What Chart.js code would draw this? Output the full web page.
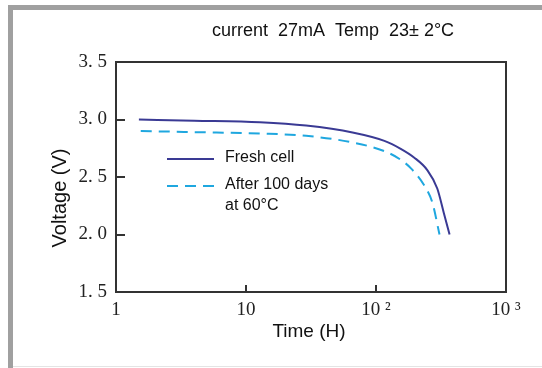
<!DOCTYPE html>
<html><head><meta charset="utf-8">
<script src="https://cdn.jsdelivr.net/npm/chart.js@4/dist/chart.umd.min.js"></script>
<style>html,body{margin:0;padding:0;background:#fff}#wrap{width:542px;height:368px;position:relative}</style>
</head><body><div id="wrap"><canvas id="c" width="542" height="368"></canvas></div>
<script>
const chartTitle = 'current  27mA  Temp  23\u00b1 2\u00b0C';
const xAxisTitle = 'Time (H)';
const yAxisTitle = 'Voltage (V)';
const xTickValues = [1, 10, 100, 1000];
const xTickLabels = ['1', '10', '10 \u00b2', '10 \u00b3'];
const yTickValues = [1.5, 2.0, 2.5, 3.0, 3.5];
const yTickLabels = ['1. 5', '2. 0', '2. 5', '3. 0', '3. 5'];
const seriesNames = ['Fresh cell', 'After 100 days at 60\u00b0C'];
const legendLines = [['Fresh cell'], ['After 100 days', 'at 60\u00b0C']];
const seriesColors = ['#3a3a94', '#1fa7df'];
const freshTime = [1.5, 4, 12.8, 29, 66, 116, 155, 196, 248, 296, 332, 368];
const freshVolt = [3.00, 2.99, 2.976, 2.947, 2.887, 2.814, 2.745, 2.67, 2.56, 2.40, 2.19, 2.00];
const agedTime = [1.55, 4, 12.8, 29, 66, 116, 155, 185, 234, 271, 308];
const agedVolt = [2.90, 2.89, 2.878, 2.858, 2.80, 2.725, 2.65, 2.577, 2.43, 2.28, 2.00];

const toPts = (ts, vs) => ts.map((t, i) => ({x: t, y: vs[i]}));

const decor = {
  id: 'decor',
  beforeDraw(chart) {
    const ctx = chart.ctx;
    ctx.save();
    ctx.fillStyle = '#fff';
    ctx.fillRect(0, 0, chart.width, chart.height);
    ctx.fillStyle = '#a0a0a0';
    ctx.fillRect(8, 5, chart.width - 8, 5);
    ctx.fillRect(8, 5, 5, chart.height - 5);
    ctx.fillStyle = '#e4e4e4';
    ctx.fillRect(13, 366, chart.width - 13, 1);
    ctx.restore();
  },
  afterDraw(chart) {
    const {ctx, chartArea: a, scales} = chart;
    ctx.save();
    ctx.strokeStyle = '#333';
    ctx.lineWidth = 2;
    ctx.strokeRect(a.left, a.top, a.right - a.left, a.bottom - a.top);
    ctx.beginPath();
    yTickValues.forEach(v => {
      if (v <= scales.y.min || v >= scales.y.max) return;
      const y = Math.round(scales.y.getPixelForValue(v));
      ctx.moveTo(a.left, y); ctx.lineTo(a.left + 9, y);
    });
    xTickValues.forEach(v => {
      if (v <= scales.x.min || v >= scales.x.max) return;
      const x = Math.round(scales.x.getPixelForValue(v));
      ctx.moveTo(x, a.bottom); ctx.lineTo(x, a.bottom - 7);
    });
    ctx.stroke();

    // legend
    const lx = a.left + 51, tx = a.left + 109;
    const rows = [159, 186];
    ctx.font = '16px "Liberation Sans", Arial, sans-serif';
    ctx.textAlign = 'left';
    ctx.textBaseline = 'middle';
    chart.data.datasets.forEach((ds, i) => {
      ctx.beginPath();
      ctx.strokeStyle = ds.borderColor;
      ctx.lineWidth = ds.borderWidth;
      ctx.setLineDash(ds.borderDash || []);
      ctx.moveTo(lx, rows[i]); ctx.lineTo(lx + 47, rows[i]);
      ctx.stroke();
      ctx.setLineDash([]);
      ctx.fillStyle = '#111';
      legendLines[i].forEach((ln, j) => ctx.fillText(ln, tx, rows[i] - 1 + j * 21));
    });

    // titles
    ctx.fillStyle = '#111';
    ctx.textAlign = 'center';
    ctx.font = '18px "Liberation Sans", Arial, sans-serif';
    ctx.fillText(chartTitle, 333, 31);
    ctx.font = '19px "Liberation Sans", Arial, sans-serif';
    ctx.fillText(xAxisTitle, 309, 332);
    ctx.translate(60, 198);
    ctx.rotate(-Math.PI / 2);
    ctx.font = '20px "Liberation Sans", Arial, sans-serif';
    ctx.fillText(yAxisTitle, 0, 0);
    ctx.restore();
  }
};

new Chart(document.getElementById('c'), {
  type: 'line',
  data: {
    datasets: [
      {label: seriesNames[0], data: toPts(freshTime, freshVolt), borderColor: seriesColors[0], borderWidth: 2,
       pointRadius: 0, cubicInterpolationMode: 'monotone', fill: false},
      {label: seriesNames[1], data: toPts(agedTime, agedVolt), borderColor: seriesColors[1], borderWidth: 2,
       borderDash: [11, 7], pointRadius: 0, cubicInterpolationMode: 'monotone', fill: false}
    ]
  },
  options: {
    responsive: false,
    animation: false,
    devicePixelRatio: 1,
    layout: {padding: {left: 14, top: 62, right: 36, bottom: 0}},
    plugins: {legend: {display: false}, title: {display: false}, tooltip: {enabled: false}},
    scales: {
      x: {
        type: 'logarithmic', min: 1, max: 1000,
        afterBuildTicks: s => { s.ticks = xTickValues.map(v => ({value: v})); },
        afterFit: s => { s.height = 76; },
        ticks: {
          autoSkip: false, maxRotation: 0, padding: 7, color: '#222',
          font: {family: '"Liberation Serif", serif', size: 19},
          callback: v => { const i = xTickValues.indexOf(v); return i >= 0 ? xTickLabels[i] : ''; }
        },
        grid: {display: false, drawTicks: false},
        border: {display: false}
      },
      y: {
        type: 'linear', min: 1.5, max: 3.5,
        afterBuildTicks: s => { s.ticks = yTickValues.map(v => ({value: v})); },
        afterFit: s => { s.width = 102; },
        ticks: {
          autoSkip: false, padding: 9, color: '#222',
          font: {family: '"Liberation Serif", serif', size: 19},
          callback: v => { const i = yTickValues.findIndex(t => Math.abs(t - v) < 1e-9); return i >= 0 ? yTickLabels[i] : ''; }
        },
        grid: {display: false, drawTicks: false},
        border: {display: false}
      }
    }
  },
  plugins: [decor]
});
</script>
</body></html>
